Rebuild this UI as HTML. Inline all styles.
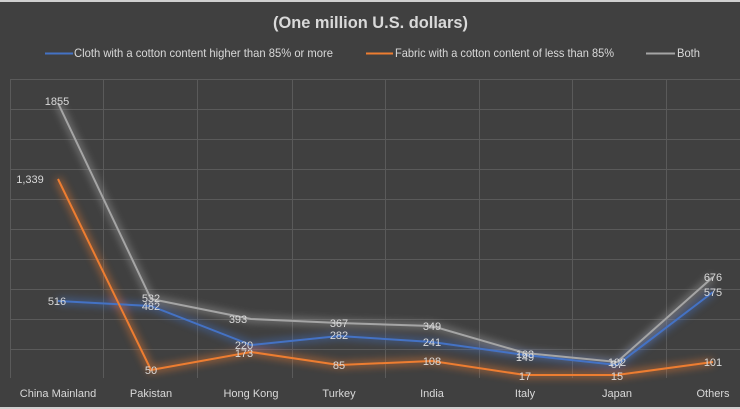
<!DOCTYPE html>
<html><head><meta charset="utf-8"><style>
body{margin:0;background:#fff}
svg{display:block}
text{font-family:"Liberation Sans",sans-serif;fill:#d9d9d9}
</style></head><body>
<svg width="740" height="409" viewBox="0 0 740 409" xmlns="http://www.w3.org/2000/svg">
<defs>
<filter id="g" x="-20%" y="-20%" width="140%" height="140%"><feGaussianBlur stdDeviation="4"/></filter>
</defs>
<rect x="0" y="0" width="740" height="409" fill="#d0d0d0"/>
<rect x="0" y="2" width="740" height="405" fill="#404040"/>
<text x="273" y="28" font-size="17" font-weight="bold" fill="#d9d9d9" textLength="195" lengthAdjust="spacingAndGlyphs">(One million U.S. dollars)</text>
<g font-size="12">
<line x1="45" y1="53.5" x2="73" y2="53.5" stroke="#4472c4" stroke-width="2"/>
<text x="74" y="57" textLength="259" lengthAdjust="spacingAndGlyphs">Cloth with a cotton content higher than 85% or more</text>
<line x1="366" y1="53.5" x2="393" y2="53.5" stroke="#ed7d31" stroke-width="2"/>
<text x="395" y="57" textLength="219" lengthAdjust="spacingAndGlyphs">Fabric with a cotton content of less than 85%</text>
<line x1="646" y1="53.5" x2="675" y2="53.5" stroke="#a5a5a5" stroke-width="2"/>
<text x="677" y="57" textLength="23" lengthAdjust="spacingAndGlyphs">Both</text>
</g>
<g stroke="#5a5a5a" stroke-width="1">
<line x1="10" y1="79.5" x2="740" y2="79.5"/><line x1="10" y1="109.5" x2="740" y2="109.5"/>
<line x1="10" y1="139.5" x2="740" y2="139.5"/><line x1="10" y1="169.5" x2="740" y2="169.5"/>
<line x1="10" y1="199.5" x2="740" y2="199.5"/><line x1="10" y1="229.5" x2="740" y2="229.5"/>
<line x1="10" y1="259.5" x2="740" y2="259.5"/><line x1="10" y1="289.5" x2="740" y2="289.5"/>
<line x1="10" y1="319.5" x2="740" y2="319.5"/><line x1="10" y1="349.5" x2="740" y2="349.5"/>
<line x1="10.5" y1="79" x2="10.5" y2="378"/><line x1="103.5" y1="79" x2="103.5" y2="378"/>
<line x1="197.5" y1="79" x2="197.5" y2="378"/><line x1="292.5" y1="79" x2="292.5" y2="378"/>
<line x1="385.5" y1="79" x2="385.5" y2="378"/><line x1="479.5" y1="79" x2="479.5" y2="378"/>
<line x1="572.5" y1="79" x2="572.5" y2="378"/><line x1="666.5" y1="79" x2="666.5" y2="378"/>
</g>
<g fill="none" stroke-width="6" opacity="0.55" filter="url(#g)">
<polyline stroke="#a5a5a5" points="58,103 151,299 251,319 339,323 432,326 525,353 617,362 713,277"/>
<polyline stroke="#4472c4" points="58,301 151,306 251,345 339,336 432,342 525,355 617,365 713,292"/>
<polyline stroke="#ed7d31" points="58,179 151,370 251,352 339,365 432,361 525,375 617,375 713,362"/>
</g>
<g fill="none" stroke-width="2">
<polyline stroke="#a5a5a5" points="58,103 151,299 251,319 339,323 432,326 525,353 617,362 713,277"/>
<polyline stroke="#4472c4" points="58,301 151,306 251,345 339,336 432,342 525,355 617,365 713,292"/>
<polyline stroke="#ed7d31" points="58,179 151,370 251,352 339,365 432,361 525,375 617,375 713,362"/>
</g>
<g font-size="11" text-anchor="middle">
<text x="57" y="105">1855</text><text x="30" y="183">1,339</text><text x="57" y="305">516</text>
<text x="151" y="302">532</text><text x="151" y="310">482</text><text x="151" y="374">50</text>
<text x="238" y="323">393</text><text x="244" y="349">220</text><text x="244" y="357">173</text>
<text x="339" y="327">367</text><text x="339" y="339">282</text><text x="339" y="369">85</text>
<text x="432" y="330">349</text><text x="432" y="346">241</text><text x="432" y="365">108</text>
<text x="525" y="358">163</text><text x="525" y="361">149</text><text x="525" y="380">17</text>
<text x="617" y="366">102</text><text x="617" y="368">87</text><text x="617" y="380">15</text>
<text x="713" y="281">676</text><text x="713" y="296">575</text><text x="713" y="366">101</text>
</g>
<g font-size="11" text-anchor="middle">
<text x="58" y="397">China Mainland</text><text x="151" y="397">Pakistan</text>
<text x="251" y="397">Hong Kong</text><text x="339" y="397">Turkey</text>
<text x="432" y="397">India</text><text x="525" y="397">Italy</text>
<text x="617" y="397">Japan</text><text x="713" y="397">Others</text>
</g>
</svg>
</body></html>
